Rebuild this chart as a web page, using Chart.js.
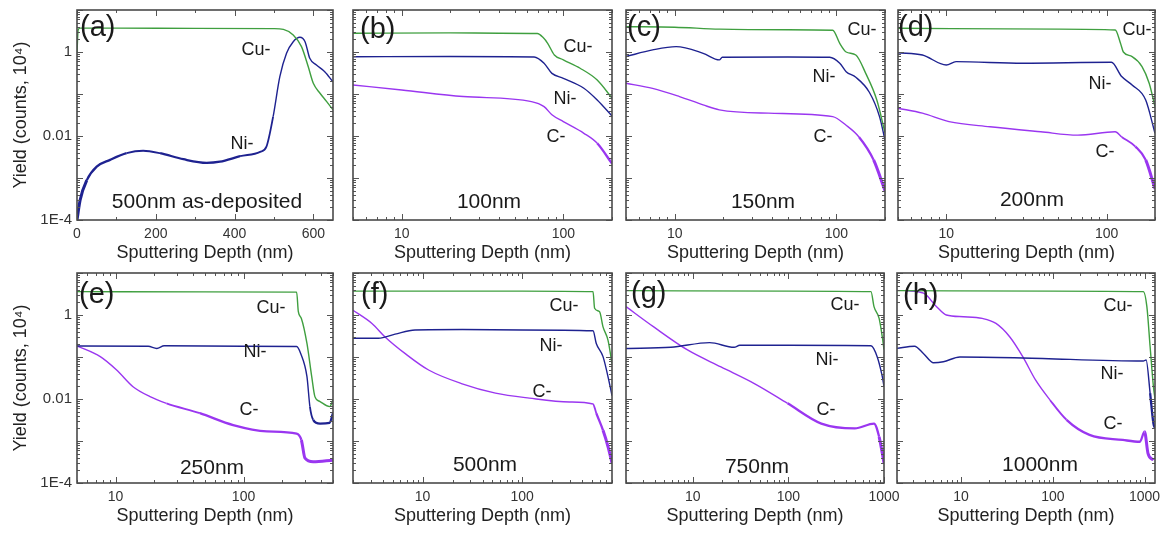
<!DOCTYPE html>
<html><head><meta charset="utf-8">
<script src="https://cdn.jsdelivr.net/npm/chart.js@4/dist/chart.umd.min.js"></script>
<style>
html,body{margin:0;padding:0;background:#fff;}
#wrap{position:relative;width:1166px;height:538px;overflow:hidden;background:#fff;}
canvas{position:absolute;}
</style></head><body><div id="wrap"></div>
<script>
// ---------- data: [depth (nm), yield (counts, 1e4)] ----------
const aCu = [[0,1.0],[3,3.4],[8,3.7],[100,3.7],[300,3.65],[500,3.6],[524,3.45],[549,2.54],[570,1.34],[587,0.45],[600,0.18],[617,0.104],[634,0.066],[650,0.042]];
const aNi = [[0,1.0e-4],[8,3.0e-4],[25,8.9e-4],[50,1.86e-3],[84,2.7e-3],[126,3.9e-3],[168,4.46e-3],[211,3.9e-3],[270,2.8e-3],[329,2.3e-3],[363,2.45e-3],[414,3.3e-3],[465,4.2e-3],[481,5.6e-3],[498,0.029],[515,0.258],[532,0.93],[549,1.76],[566,2.24],[579,1.76],[591,0.71],[608,0.49],[629,0.34],[650,0.195]];

const bCu = [[5,2.8],[20,2.85],[40,2.8],[69,2.75],[75,2.2],[80,1.61],[88,0.85],[100,0.65],[127,0.41],[162,0.215],[200,0.08]];
const bNi = [[5,0.77],[20,0.78],[66,0.76],[76,0.54],[85,0.31],[100,0.236],[134,0.137],[162,0.072],[200,0.03]];
const bC  = [[5,0.164],[10,0.125],[24,0.087],[63.5,0.066],[76,0.05],[85,0.032],[100,0.022],[134,0.0116],[162,0.0067],[200,0.0022]];

const cCu = [[5,4.0],[10,3.9],[19,3.5],[50,3.4],[95,3.3],[105,1.6],[115,1.0],[132,0.85],[152,0.31],[178,0.072],[200,0.012]];
const cNi = [[5,0.78],[7.3,1.12],[10.2,1.34],[15,0.93],[18.9,0.65],[19.7,0.75],[50,0.76],[91,0.75],[105,0.54],[115,0.34],[132,0.25],[160,0.11],[185,0.029],[200,0.008]];
const cC  = [[5,0.18],[7.3,0.136],[10.7,0.087],[15,0.055],[18.9,0.042],[38,0.035],[95,0.029],[115,0.018],[138,0.0095],[170,0.0027],[200,5e-4]];

const dCu = [[5,3.67],[50,3.5],[113,3.34],[122,1.6],[127,1.0],[144,0.78],[166,0.45],[184,0.18],[200,0.05]];
const dNi = [[5,0.96],[7.1,0.85],[10,0.49],[11.5,0.59],[30,0.54],[107,0.57],[124,0.26],[144,0.164],[175,0.072],[200,0.0116]];
const dC  = [[5,0.046],[7.1,0.035],[10.4,0.022],[18.7,0.0166],[38.8,0.0126],[66,0.0105],[113,0.0126],[124,0.0095],[151,0.0056],[175,0.0027],[200,5.5e-4]];

const eCu = [[5,3.6],[50,3.55],[260,3.5],[268,1.2],[283,0.83],[313,0.21],[341,0.034],[361,0.0114],[396,0.0087],[470,0.0066],[500,0.0095]];
const eNi = [[5,0.183],[18,0.18],[21,0.16],[24,0.185],[100,0.18],[260,0.178],[280,0.12],[313,0.034],[330,0.0066],[350,0.0032],[396,0.0026],[470,0.0027],[500,0.0046]];
const eC  = [[5,0.183],[7.6,0.102],[10.2,0.049],[13.7,0.0196],[18.6,0.0114],[25,0.0079],[45.6,0.0046],[83,0.0024],[152,0.0017],[260,0.0015],[283,0.00106],[302,3.9e-4],[350,3.2e-4],[500,3.5e-4]];

const fCu = [[2,3.7],[100,3.7],[516,3.6],[535,1.45],[600,1.2],[650,0.52],[730,0.25],[800,0.07]];
const fNi = [[2,0.28],[3.6,0.28],[5.3,0.35],[8.4,0.44],[25,0.45],[100,0.44],[516,0.42],[556,0.21],[650,0.102],[756,0.023],[800,0.012]];
const fC  = [[2,1.3],[3.1,0.63],[4.2,0.30],[6.7,0.12],[11.5,0.049],[25,0.023],[54,0.0138],[118,0.0105],[300,0.0085],[516,0.0076],[556,0.0046],[650,0.0018],[730,7.3e-4],[800,3e-4]];

const gCu = [[2,3.8],[100,3.7],[731,3.6],[786,1.58],[889,0.83],[960,0.30],[1000,0.15]];
const gNi = [[2,0.16],[5.9,0.17],[15,0.22],[27,0.17],[31,0.19],[100,0.19],[731,0.185],[850,0.10],[960,0.034],[1000,0.02]];
const gC  = [[2,1.58],[3.9,0.52],[8.8,0.147],[19.7,0.058],[44.5,0.023],[98,0.0079],[221,0.0026],[495,0.002],[786,0.0026],[889,0.00126],[960,5.1e-4],[1000,3e-4]];

const hCu = [[2,3.8],[100,3.7],[970,3.6],[1060,1.58],[1150,0.176],[1250,0.0196],[1300,0.01]];
const hNi = [[2,0.16],[3.1,0.18],[3.9,0.12],[5,0.073],[6.4,0.077],[9.7,0.1],[47,0.095],[970,0.08],[1040,0.085],[1150,0.0138],[1250,0.0026],[1300,0.002]];
const hC  = [[2.5,3.8],[3.9,3.3],[5.4,1.58],[6.9,1.0],[10.6,0.91],[17,0.83],[24,0.63],[34,0.30],[47,0.102],[65,0.028],[93,0.0095],[141,0.0032],[251,0.0014],[580,0.00106],[890,0.00096],[1000,0.00166],[1090,5.1e-4],[1250,3.5e-4]];

// tick labels
const linTicksA = [0,200,400,600];
const logTicks10 = [10,100];
const logTicks1000 = [10,100,1000];
const yTickVals = [1e-4,1e-2,1];
const yTickLabels = ['1E-4','0.01','1'];
const xTitle = 'Sputtering Depth (nm)';
const yTitle = 'Yield (counts, 10\u2074)';

// ---------- styling / layout ----------
const FONT = '"Liberation Sans", Arial, Helvetica, sans-serif';
const COLORS = {'Cu-':'#3f9f3f','Ni-':'#1e2290','C-':'#9a36f0'};

const panels = [
 {frame:[77,10,333,220], xType:'linear', xMin:0, xMax:650, xTicks:linTicksA, showY:true,
  series:[['Cu-',aCu],['Ni-',aNi]], letter:'(a)', letterPos:[3,18], sub:'500nm as-deposited', subPos:[130,192],
  labels:{'Cu-':[179,40],'Ni-':[165,134]}},
 {frame:[353,10,612,220], xType:'logarithmic', xMin:5, xMax:200, xTicks:logTicks10, showY:false,
  series:[['Cu-',bCu],['Ni-',bNi],['C-',bC]], letter:'(b)', letterPos:[7,20], sub:'100nm', subPos:[136,192],
  labels:{'Cu-':[225,37],'Ni-':[212,89],'C-':[203,127]}},
 {frame:[626,10,885,220], xType:'logarithmic', xMin:5, xMax:200, xTicks:logTicks10, showY:false,
  series:[['Cu-',cCu],['Ni-',cNi],['C-',cC]], letter:'(c)', letterPos:[1,18], sub:'150nm', subPos:[137,192],
  labels:{'Cu-':[236,20],'Ni-':[198,67],'C-':[197,127]}},
 {frame:[898,10,1155,220], xType:'logarithmic', xMin:5, xMax:200, xTicks:logTicks10, showY:false,
  series:[['Cu-',dCu],['Ni-',dNi],['C-',dC]], letter:'(d)', letterPos:[0,18], sub:'200nm', subPos:[134,190],
  labels:{'Cu-':[239,20],'Ni-':[202,74],'C-':[207,142]}},
 {frame:[77,273,333,483], xType:'logarithmic', xMin:5, xMax:500, xTicks:logTicks10, showY:true,
  series:[['Cu-',eCu],['Ni-',eNi],['C-',eC]], letter:'(e)', letterPos:[2,22], sub:'250nm', subPos:[135,195],
  labels:{'Cu-':[194,35],'Ni-':[178,79],'C-':[172,137]}},
 {frame:[353,273,612,483], xType:'logarithmic', xMin:2, xMax:800, xTicks:logTicks10, showY:false,
  series:[['Cu-',fCu],['Ni-',fNi],['C-',fC]], letter:'(f)', letterPos:[8,22], sub:'500nm', subPos:[132,192],
  labels:{'Cu-':[211,33],'Ni-':[198,73],'C-':[189,119]}},
 {frame:[626,273,884,483], xType:'logarithmic', xMin:2, xMax:1000, xTicks:logTicks1000, showY:false,
  series:[['Cu-',gCu],['Ni-',gNi],['C-',gC]], letter:'(g)', letterPos:[5,21], sub:'750nm', subPos:[131,194],
  labels:{'Cu-':[219,32],'Ni-':[201,87],'C-':[200,137]}},
 {frame:[897,273,1155,483], xType:'logarithmic', xMin:2, xMax:1300, xTicks:logTicks1000, showY:false,
  series:[['Cu-',hCu],['Ni-',hNi],['C-',hC]], letter:'(h)', letterPos:[6,23], sub:'1000nm', subPos:[143,192],
  labels:{'Cu-':[221,33],'Ni-':[215,101],'C-':[216,151]}}
];

// low-count parts of the profiles look noisier (drawn thicker)
function segWidth(c) {
  const y = Math.min(c.p0.parsed.y, c.p1.parsed.y);
  return y < 8e-4 ? 3 : (y < 3e-3 ? 2.3 : (y < 6e-3 ? 1.8 : 1.4));
}

function logTickList(min, max) {
  const out = [];
  for (let d = Math.floor(Math.log10(min)); d <= Math.ceil(Math.log10(max)); d++) {
    for (let m = 1; m <= 9; m++) {
      const v = m * Math.pow(10, d);
      if (v >= min * 0.9999 && v <= max * 1.0001) out.push([v, m === 1]);
    }
  }
  return out;
}

const framePlugin = {
  id: 'frameTicks',
  afterDatasetsDraw(chart) {
    const {ctx, chartArea: ca, scales} = chart;
    const xs = scales.x, ys = scales.y;
    ctx.save();
    ctx.strokeStyle = '#555';
    ctx.lineWidth = 1;
    const seg = (x1, y1, x2, y2) => { ctx.beginPath(); ctx.moveTo(x1, y1); ctx.lineTo(x2, y2); ctx.stroke(); };
    let xt;
    if (xs.type === 'linear') {
      xt = [];
      for (let v = xs.min; v <= xs.max; v += 100) xt.push([v, v % 200 === 0]);
    } else xt = logTickList(xs.min, xs.max);
    xt.forEach(([v, major]) => {
      const p = Math.round(xs.getPixelForValue(v)) + 0.5, len = major ? 6 : 3;
      seg(p, ca.bottom, p, ca.bottom - len);
      seg(p, ca.top, p, ca.top + len);
    });
    logTickList(ys.min, ys.max).forEach(([v, major]) => {
      const p = Math.round(ys.getPixelForValue(v)) + 0.5, len = major ? 6 : 3;
      seg(ca.left, p, ca.left + len, p);
      seg(ca.right, p, ca.right - len, p);
    });
    ctx.lineWidth = 1.6;
    ctx.strokeStyle = '#4a4a4a';
    ctx.strokeRect(ca.left, ca.top, ca.right - ca.left, ca.bottom - ca.top);
    ctx.restore();
  }
};

const wrap = document.getElementById('wrap');
const PT = 16, PR = 24, XH = 50;

panels.forEach(p => {
  const [L, T, R, B] = p.frame;
  const yW = p.showY ? L : 12;
  const W = (R - L) + yW + PR, H = (B - T) + PT + XH;
  const cv = document.createElement('canvas');
  cv.width = W; cv.height = H;
  cv.style.left = (L - yW) + 'px'; cv.style.top = (T - PT) + 'px';
  cv.style.width = W + 'px'; cv.style.height = H + 'px';
  wrap.appendChild(cv);

  const textPlugin = {
    id: 'panelText',
    afterDatasetsDraw(chart) {
      const {ctx, chartArea: ca} = chart;
      ctx.save();
      ctx.fillStyle = '#1a1a1a';
      ctx.textBaseline = 'middle';
      ctx.font = '29px ' + FONT;
      ctx.textAlign = 'left';
      ctx.fillText(p.letter, ca.left + p.letterPos[0], ca.top + p.letterPos[1]);
      ctx.textAlign = 'center';
      ctx.font = '21px ' + FONT;
      ctx.fillText(p.sub, ca.left + p.subPos[0], ca.top + p.subPos[1]);
      ctx.font = '18px ' + FONT;
      Object.keys(p.labels).forEach(k => {
        ctx.fillText(k, ca.left + p.labels[k][0], ca.top + p.labels[k][1]);
      });
      ctx.restore();
    }
  };

  new Chart(cv, {
    type: 'line',
    data: {
      datasets: p.series.map(([name, arr]) => ({
        label: name,
        data: arr.map(([x, y]) => ({x, y})),
        borderColor: COLORS[name],
        borderWidth: 1.4,
        pointRadius: 0,
        fill: false,
        cubicInterpolationMode: 'monotone',
        segment: {borderWidth: segWidth}
      }))
    },
    options: {
      responsive: false, animation: false, devicePixelRatio: 1,
      layout: {padding: {top: PT, right: PR, left: 0, bottom: 0}},
      plugins: {legend: {display: false}, tooltip: {enabled: false}},
      scales: {
        x: {
          type: p.xType, min: p.xMin, max: p.xMax, position: 'bottom',
          grid: {display: false, drawTicks: false}, border: {display: false},
          afterBuildTicks: s => { s.ticks = p.xTicks.map(v => ({value: v})); },
          ticks: {font: {family: FONT, size: 14}, color: '#333', padding: 6, maxRotation: 0, autoSkip: false,
                  callback: (v, i) => String(p.xTicks[i])},
          title: {display: true, text: xTitle, font: {family: FONT, size: 18}, color: '#222', padding: {top: 0, bottom: 6}},
          afterFit: s => { s.height = XH; }
        },
        y: {
          type: 'logarithmic', min: 1e-4, max: 10, position: 'left',
          grid: {display: false, drawTicks: false}, border: {display: false},
          afterBuildTicks: s => { s.ticks = yTickVals.map(v => ({value: v})); },
          ticks: {display: p.showY, font: {family: FONT, size: 15}, color: '#333', padding: 5, autoSkip: false,
                  callback: (v, i) => yTickLabels[i]},
          title: {display: p.showY, text: yTitle, font: {family: FONT, size: 18}, color: '#222', padding: {top: 10, bottom: 0}},
          afterFit: s => { s.width = yW; }
        }
      }
    },
    plugins: [framePlugin, textPlugin]
  });
});
</script>
</body></html>
